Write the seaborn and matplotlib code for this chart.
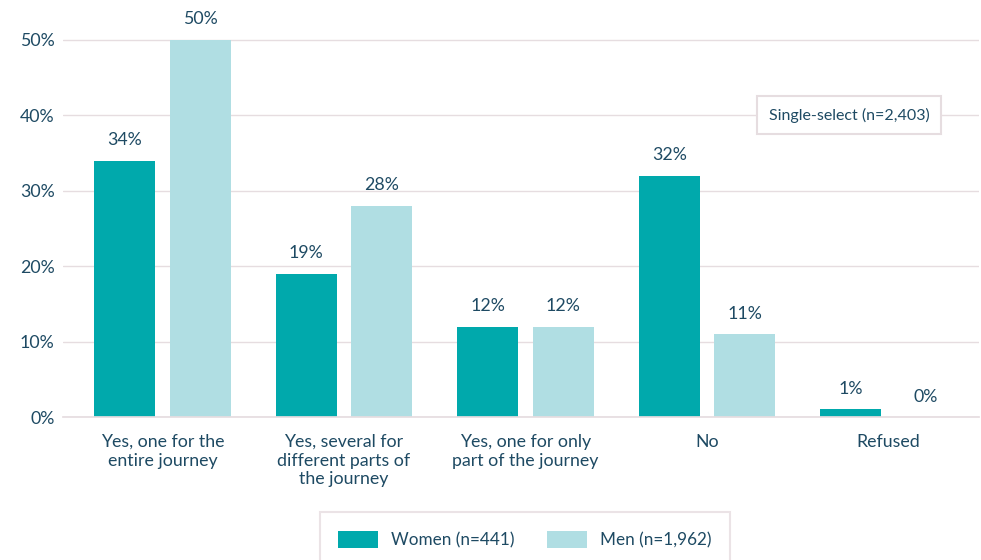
import matplotlib
matplotlib.use("Agg")
import matplotlib.pyplot as plt
import seaborn as sns
import pandas as pd
from matplotlib.patches import Patch

categories = ["Yes, one for the\nentire journey",
              "Yes, several for\ndifferent parts of\nthe journey",
              "Yes, one for only\npart of the journey",
              "No",
              "Refused"]
series_names = ["Women (n=441)", "Men (n=1,962)"]
women = [34, 19, 12, 32, 1]
men = [50, 28, 12, 11, 0]
yticks = [0, 10, 20, 30, 40, 50]
annotation = "Single-select (n=2,403)"

text_color = "#1E4A63"
grid_color = "#E6DDE0"
colors = ["#00A9AC", "#B0DEE3"]

sns.set_theme(style="white")
plt.rcParams["font.family"] = ["Lato", "DejaVu Sans"]

df = pd.DataFrame({
    "category": categories * 2,
    "group": [series_names[0]] * len(categories) + [series_names[1]] * len(categories),
    "value": women + men,
})

fig = plt.figure(figsize=(9.81, 5.6), dpi=100)
ax = fig.add_axes([63/981, 1 - 417/560, (979 - 63)/981, (417 - 2.3)/560])

sns.barplot(data=df, x="category", y="value", hue="group", order=categories,
            hue_order=series_names, palette=colors, width=0.83, gap=0.19,
            saturation=1, ax=ax, legend=False, errorbar=None, linewidth=0,
            edgecolor="none")

ax.set_xlim(-0.548, 4.5)
ax.set_ylim(0, 55)
ax.set_yticks(yticks)
ax.set_yticklabels([f"{v}%" for v in yticks], fontsize=12.8, color=text_color)
ax.yaxis.grid(True, color=grid_color, linewidth=1)
ax.set_axisbelow(True)
for s in ["left", "right", "top"]:
    ax.spines[s].set_visible(False)
ax.spines["bottom"].set_color(grid_color)
ax.tick_params(axis="both", length=0)
ax.tick_params(axis="y", pad=6)
ax.tick_params(axis="x", pad=12)
ax.set_xlabel("")
ax.set_ylabel("")
ax.set_xticks(range(len(categories)))
ax.set_xticklabels(categories, fontsize=12.8, color=text_color, linespacing=1.22, va="top")

for cont in ax.containers:
    ax.bar_label(cont, labels=[f"{v:.0f}%" for v in cont.datavalues],
                 padding=9, fontsize=12.8, color=text_color)

ax.annotate(annotation, xy=(849/981, 1 - 115/560), xycoords="figure fraction",
            ha="center", va="center", fontsize=11.5, color=text_color,
            bbox=dict(boxstyle="square,pad=0.72", fc="white", ec=grid_color, lw=1.5))

handles = [Patch(facecolor=c, edgecolor="none") for c in colors]
leg = fig.legend(handles, series_names, loc="upper center",
                 bbox_to_anchor=(525/981, 1 - 512/560), ncol=2, frameon=True,
                 fontsize=12.3, handlelength=2.3, handleheight=1.2,
                 columnspacing=1.9, handletextpad=0.8, borderpad=1.1,
                 fancybox=False, borderaxespad=0)
leg.get_frame().set_edgecolor(grid_color)
leg.get_frame().set_linewidth(1.5)
for t in leg.get_texts():
    t.set_color(text_color)

fig.savefig("out.png", dpi=100)
